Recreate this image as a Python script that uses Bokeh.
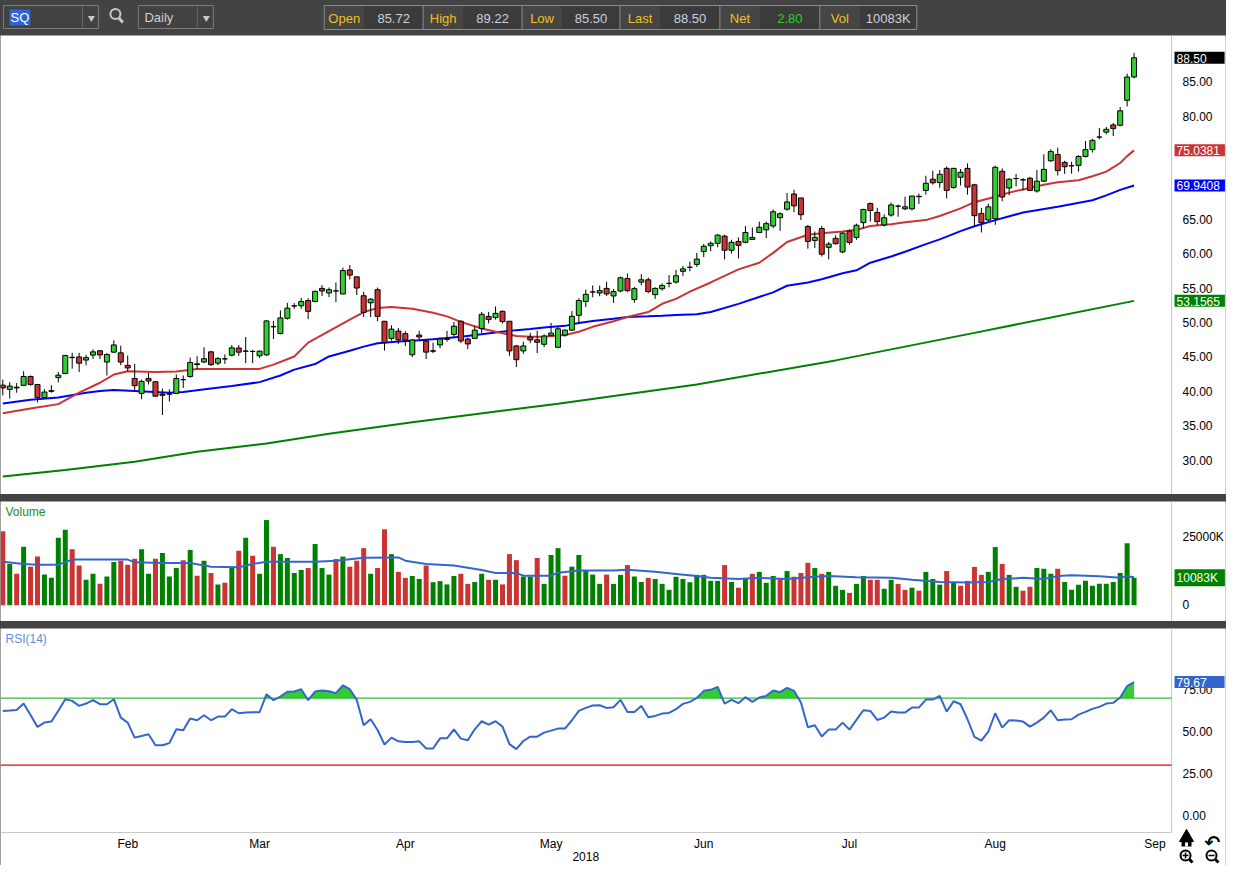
from bokeh.plotting import figure
from bokeh.models import Range1d, FixedTicker, Label, Spacer, NumeralTickFormatter, LinearAxis
from bokeh.layouts import column
from bokeh.embed import file_html
from bokeh.resources import INLINE
from bokeh.core.properties import value

# ---------------- data ----------------
symbol = "SQ"
interval = "Daily"

opens = [40.9,40.29,40.5,40.87,42.16,41.0,39.1,40.0,42.0,42.59,
         44.9,45.0,44.55,45.27,45.9,44.26,45.7,45.6,43.78,41.87,
         39.7,41.87,41.4,39.6,39.6,39.7,41.7,42.16,44.0,44.26,
         45.74,44.1,44.72,45.26,46.3,45.84,45.8,45.17,45.3,49.4,
         48.42,50.62,52.4,52.44,53.2,53.06,54.97,54.3,54.6,54.16,
         57.65,56.65,53.9,52.87,54.78,50.19,47.7,48.76,48.4,45.32,
         48.18,47.33,45.9,46.75,47.56,48.28,50.19,47.61,47.7,49.14,
         50.9,50.72,51.63,50.19,46.6,45.88,47.9,47.5,46.84,48.14,
         46.4,48.18,48.9,51.05,53.06,54.45,54.3,54.97,53.87,54.59,
         56.41,53.35,55.88,56.22,54.06,54.92,55.7,55.88,57.45,58.04,
         58.46,60.32,61.18,61.52,62.57,60.51,61.8,61.66,62.09,63.1,
         63.48,64.05,65.25,66.49,68.69,68.12,63.96,61.95,63.67,60.94,
         62.24,60.27,63.29,62.38,64.53,67.3,66.01,64.2,65.63,66.92,
         66.54,66.54,68.36,69.22,70.84,70.36,72.42,69.65,71.13,72.42,
         70.03,65.87,64.92,65.11,72.0,69.56,70.94,70.75,70.99,69.13,
         70.56,73.52,74.43,73.29,72.8,72.85,74.15,75.15,76.97,77.69,
         78.74,78.69,82.32,85.72]
highs = [41.7,41.34,41.2,42.92,42.3,41.0,40.3,40.9,42.8,45.3,
         45.6,45.6,45.3,46.1,46.0,45.55,47.4,46.65,45.2,44.0,
         41.7,42.7,41.4,40.4,40.3,42.45,42.3,44.9,45.1,46.4,
         45.9,45.0,45.36,46.75,46.75,47.9,46.03,45.93,50.33,50.24,
         51.77,52.87,52.82,53.6,53.54,54.64,55.45,55.1,55.83,57.99,
         58.37,56.65,54.5,53.54,55.1,50.19,49.6,49.23,48.75,47.56,
         48.8,47.47,47.08,47.8,48.8,50.1,50.33,47.8,49.47,51.53,
         51.53,52.34,51.77,50.19,46.75,47.23,48.5,48.8,48.28,49.95,
         49.38,49.0,51.67,53.54,54.78,55.4,55.36,55.93,54.88,56.7,
         57.13,55.2,57.03,56.55,55.12,55.69,56.9,57.65,58.22,58.85,
         60.13,61.42,61.8,62.86,62.76,62.04,62.38,64.05,63.81,64.68,
         64.68,66.45,66.01,68.83,69.31,68.12,64.2,63.24,64.05,61.71,
         62.71,63.14,63.53,64.39,66.54,67.45,66.68,65.73,67.45,67.16,
         68.3,68.41,68.74,71.35,72.06,72.18,72.7,72.5,72.33,73.14,
         70.18,66.68,67.3,72.81,72.42,70.99,71.61,70.99,71.18,72.18,
         74.48,75.2,75.44,73.52,73.38,74.34,76.39,76.73,78.31,78.45,
         79.02,81.32,86.2,89.22]
lows = [39.4,38.95,39.8,40.77,40.8,38.4,39.0,39.8,41.3,42.5,
        43.3,42.8,43.8,44.7,44.7,42.3,45.55,43.8,42.9,40.05,
        38.86,41.0,39.2,36.56,38.5,39.6,40.5,41.97,43.2,44.1,
        43.7,43.8,44.0,45.07,45.17,44.1,44.1,44.83,45.17,47.6,
        48.28,50.43,52.0,52.0,50.5,52.96,53.87,53.7,52.96,54.16,
        56.26,54.0,50.81,50.81,50.19,45.93,47.37,46.89,46.6,44.98,
        47.47,44.69,45.55,46.27,47.23,47.95,47.0,46.13,47.6,48.5,
        49.86,50.43,49.86,45.17,43.55,45.46,47.0,45.55,46.42,48.04,
        46.27,47.95,48.8,49.86,52.25,53.68,53.83,53.87,52.87,54.4,
        54.4,52.87,55.45,54.26,53.44,54.64,55.12,55.69,56.75,57.45,
        58.08,59.51,60.37,60.94,59.18,60.04,59.32,61.52,62.0,63.0,
        62.28,63.72,63.34,66.25,66.06,64.91,60.75,60.85,59.61,59.18,
        61.33,60.08,61.33,62.04,63.72,64.68,64.15,63.96,65.39,65.39,
        66.35,66.3,67.26,68.6,70.05,69.6,68.05,69.46,69.94,68.6,
        63.96,63.1,64.68,64.2,67.64,68.5,69.8,69.22,69.12,68.89,
        70.41,73.38,71.37,71.61,71.66,71.95,74.0,74.72,76.63,77.35,
        77.11,78.55,81.42,85.50]
closes = [40.5,40.77,40.6,42.16,41.0,39.1,39.9,40.1,42.35,45.22,
          44.95,44.1,44.9,45.74,45.3,45.36,46.75,44.26,43.4,40.82,
          41.44,41.5,39.3,39.43,39.6,41.87,41.7,44.2,43.9,44.74,
          43.88,44.76,44.72,46.32,45.7,45.86,45.8,45.84,50.24,49.4,
          50.67,52.1,52.45,53.06,51.63,54.54,54.59,54.78,54.6,57.56,
          56.9,55.02,51.48,53.4,50.9,47.08,49.04,47.5,47.45,47.47,
          47.9,45.7,45.84,47.61,47.65,49.47,47.33,46.89,48.9,51.2,
          50.43,51.34,50.14,45.88,44.6,46.6,47.47,47.13,48.04,48.47,
          49.09,48.9,50.91,53.2,54.11,54.45,54.64,54.16,54.5,56.51,
          54.64,54.93,56.22,54.5,54.97,55.4,55.7,56.8,57.8,58.04,
          59.22,61.09,61.52,62.71,60.51,61.66,61.23,63.1,62.38,63.86,
          64.39,66.11,65.82,67.54,66.97,65.68,61.8,62.38,59.94,61.42,
          61.47,63.0,61.66,64.15,66.45,66.3,64.68,65.25,67.11,66.92,
          66.83,68.4,68.3,70.25,70.32,71.56,69.22,72.42,71.85,69.7,
          65.54,64.53,66.83,72.57,68.26,70.84,70.94,70.75,69.22,70.56,
          72.28,74.86,72.09,72.66,72.8,74.15,75.15,76.49,76.97,78.1,
          78.2,80.79,85.70,88.50]
prev_close = 41.2  # close before the first visible bar

volumes_k = [27100,15100,11500,21400,14100,17800,11200,10000,24700,27600,
             20500,14500,9300,11500,7800,10500,15800,16300,14800,17000,
             20500,11500,17000,19100,10500,13600,16500,20200,10800,16300,
             11800,7600,8200,13600,19900,24700,18100,11500,31200,21400,
             18700,17300,11800,12900,13600,22400,13600,11200,16900,17800,
             14100,16300,20900,11500,13600,27800,18700,12200,10000,10700,
             9600,14500,8400,8800,7600,10700,11500,7800,8500,11500,
             9300,9300,7600,18700,16500,10500,10500,17300,7800,18400,
             20900,10800,14100,18400,12700,11200,7800,11200,7800,11100,
             14700,10500,8500,10000,9600,7800,5600,10400,9600,8400,
             11100,11100,8900,8900,14700,8500,6400,9600,11500,12200,
             8200,10700,9600,12500,10400,11800,15500,13600,11500,12200,
             7100,5600,4500,7800,10700,9300,9300,6000,9300,7800,
             5600,6400,5300,12200,9600,7500,12500,8500,7100,8900,
             14000,11100,12200,21300,15100,11100,6700,5300,6700,13600,
             13300,11500,13300,8500,5600,7500,8900,7100,7800,7800,
             8500,11800,22700,10083]

vol_avg_idx = [0,3,5,8,10,18,19,23,27,30,34,36,38,45,48,52,57,58,61,65,
               69,71,74,75,79,80,83,88,90,94,97,100,102,106,109,113,117,119,123,128,
               131,135,139,142,144,147,150,152,154,158,161,162,163]
vol_avg_k = [15900,15100,14850,14850,16700,16700,15700,15450,15450,14100,13900,15100,15900,15900,16300,17400,17500,16300,15100,14500,
             12900,11800,11800,10800,10800,11900,12700,12700,13000,12200,11450,10700,10000,9600,10000,9600,10400,10700,10200,10000,
             9300,8500,8300,8500,9600,10000,9600,10700,11000,10600,10000,10600,10200]

ma20_idx = [0,4,8,11,14,16,18,22,25,28,33,37,39,42,44,47,50,52,54,56,
            59,62,64,66,69,71,74,76,78,81,83,85,88,90,93,95,97,99,102,104,
            106,109,111,113,116,118,121,123,125,128,130,133,135,138,140,143,145,147,150,152,
            155,157,159,161,162,163]
ma20_val = [36.8,37.5,38.14,39.8,41.25,42.44,42.92,42.83,42.87,43.26,43.26,43.26,43.88,45.07,47.08,48.75,50.43,51.53,52.1,52.25,
            52.0,51.44,50.9,50.1,49.14,48.66,48.04,47.94,47.94,48.18,48.66,49.38,50.19,50.81,51.53,52.73,53.44,54.5,55.83,56.78,
            57.74,58.7,60.13,61.71,62.76,63.0,63.24,63.48,64.05,64.3,64.58,64.9,65.5,66.6,67.5,68.3,68.89,69.36,70.03,70.41,
            70.7,71.28,71.95,73.2,74.2,75.0381]

ma50_idx = [0,4,8,12,14,16,19,24,26,30,33,37,40,42,45,47,50,52,54,57,
            59,62,66,71,74,76,78,81,83,85,88,90,93,95,97,100,102,106,111,113,
            116,118,121,123,125,128,130,133,135,138,140,143,147,152,157,159,161,163]
ma50_val = [38.24,38.76,39.1,39.8,40.05,40.2,40.05,39.8,39.9,40.4,40.77,41.34,42.3,43.16,43.97,45.07,45.89,46.5,46.99,47.23,
            47.37,47.56,47.94,48.57,48.9,49.05,49.29,49.52,49.95,50.24,50.57,50.81,50.91,51.0,51.1,51.2,51.53,52.72,54.39,55.35,
            55.83,56.31,57.17,57.6,58.7,59.6,60.3,61.4,62.1,63.3,64.0,64.9,66.0,66.83,67.79,68.5,69.3,69.9408]

ma200_idx = [0,9,19,28,38,47,59,80,100,120,140,163]
ma200_val = [27.62,28.57,29.77,31.2,32.4,33.83,35.5,38.2,41.0,44.5,48.5,53.1565]

rsi14 = [62.4,62.6,63.0,66.8,60.0,52.8,55.4,56.0,62.5,69.4,
         68.4,65.4,66.8,68.8,66.4,66.4,69.4,58.4,55.4,46.4,
         47.4,48.4,41.9,41.9,43.1,51.4,50.8,57.8,56.8,59.8,
         56.8,59.0,59.0,63.4,61.0,61.4,61.6,61.6,72.4,68.8,
         71.0,73.8,74.0,75.4,68.8,74.0,74.6,74.2,73.0,77.7,
         75.4,69.0,53.8,57.4,51.0,42.3,46.4,44.2,43.8,43.8,
         44.2,39.9,39.9,46.0,46.0,51.4,45.8,44.8,51.4,56.2,
         54.2,56.2,53.0,42.5,39.5,44.4,47.0,47.0,49.4,50.6,
         51.8,51.8,56.8,62.4,64.2,65.6,65.8,64.2,64.6,69.0,
         61.8,61.8,65.4,58.6,59.4,60.8,61.2,63.4,66.6,67.8,
         70.2,74.4,75.0,76.8,66.8,69.0,67.0,70.6,67.8,70.4,
         71.4,74.6,73.6,76.2,74.4,67.4,52.6,53.8,47.1,51.2,
         51.2,55.4,51.2,57.0,62.8,62.4,57.0,58.4,62.0,61.4,
         61.4,64.4,64.4,69.2,69.2,71.4,62.0,68.2,66.4,57.4,
         46.8,44.6,50.0,61.0,52.4,56.8,56.6,56.0,53.0,55.4,
         58.4,62.8,56.8,57.2,57.4,60.2,61.8,63.6,64.8,66.8,
         67.2,70.4,77.3,79.67]
rsi_upper = 70
rsi_lower = 30

month_ticks = [18, 37, 58, 79, 101, 122, 143, 166]
month_labels = ["Feb", "Mar", "Apr", "May", "Jun", "Jul", "Aug", "Sep"]
year_tick = 84
year_label = "2018"

price_ticks = [30, 35, 40, 45, 50, 55, 60, 65, 70, 75, 80, 85]
vol_ticks = [0, 25000]
rsi_ticks = [0, 25, 50, 75]

# ---------------- styling / layout ----------------
FONT = "Liberation Sans"
W = 1226
PLOT_W = 1172            # width of the data area; price scale to its right
BAR = "#434343"
UP_C = "#33cc33"
DN_C = "#cc3333"
VUP_C = "#008000"
VDN_C = "#cc3333"
AXIS_C = "#c8c8c8"

n = len(closes)
idx = list(range(n))
X0 = -0.33
X_SPLIT = 168.4
PX_PER_BAR = PLOT_W / (X_SPLIT - X0)
xr = Range1d(X0, X0 + W / PX_PER_BAR)
BADGE_W = W - PLOT_W - 3

CW = {'.': 3.34, 'K': 8.0}
def text_w(s):
    return sum(CW.get(ch, 6.67) for ch in s)

def style_yaxis(ax):
    ax.axis_line_color = None
    ax.major_tick_line_color = None
    ax.minor_tick_line_color = None
    ax.major_label_standoff = -(W - PLOT_W - 5)
    ax.major_label_text_font = FONT
    ax.major_label_text_font_size = "12px"
    ax.major_label_text_color = "#000000"

def panel(height, y0, y1, data_y0=None):
    f = figure(width=W, height=height, x_range=xr, y_range=Range1d(y0, y1),
               x_axis_location=None, y_axis_location="right", toolbar_location=None,
               output_backend="svg", min_border=0, background_fill_color="white",
               border_fill_color="white", outline_line_color=None)
    f.xgrid.visible = False
    f.ygrid.visible = False
    style_yaxis(f.yaxis[0])
    f.segment(x0=[X_SPLIT], y0=[y0 if data_y0 is None else data_y0], x1=[X_SPLIT], y1=[y1],
              line_color=AXIS_C, line_width=1)
    return f

def badge(f, y, text, bg):
    w = text_w(text)
    f.add_layout(Label(x=X_SPLIT, y=y, text=text, x_offset=3, text_align="left",
                       text_baseline="middle", text_color="white", text_font=FONT,
                       text_font_size="12px", background_fill_color=bg,
                       padding=dict(left=2, right=max(0, int(BADGE_W - 2 - w)), top=2, bottom=1)))

# ---------------- toolbar ----------------
tb = figure(width=W, height=35, x_range=Range1d(0, W), y_range=Range1d(35, 0),
            x_axis_location=None, y_axis_location=None, toolbar_location=None,
            output_backend="svg", min_border=0, background_fill_color=BAR,
            border_fill_color=BAR, outline_line_color=None)
tb.xgrid.visible = False
tb.ygrid.visible = False
tb.quad(left=[3, 138], right=[98, 213], top=[5, 5], bottom=[28, 28],
        fill_color="#424242", line_color="#7c7c7c", line_width=1)
tb.segment(x0=[82, 197], y0=[6, 6], x1=[82, 197], y1=[27, 27], line_color="#6a6a6a")
tb.scatter(x=[91, 206], y=[17.5, 17.5], marker="inverted_triangle", size=7,
           fill_color="#c8c8c8", line_color=None)
tb.quad(left=9, right=30, top=9, bottom=25, fill_color="#3064d0", line_color=None)
tb.text(x=[10], y=[17], text=[symbol], text_color="white", text_font=value(FONT),
        text_font_size="13px", text_baseline="middle", text_align="left")
tb.scatter(x=[115], y=[13.5], marker="circle", size=10, fill_color=None,
           line_color="#c8c8c8", line_width=2)
tb.segment(x0=[118.5], y0=[17.5], x1=[122.5], y1=[22], line_color="#c8c8c8", line_width=3)
tb.text(x=[144], y=[17], text=[interval], text_color="#d0d0d0", text_font=value(FONT),
        text_font_size="13px", text_baseline="middle", text_align="left")

q_edges = [324, 423, 522, 620, 720, 820, 917]
q_labels = ["Open", "High", "Low", "Last", "Net", "Vol"]
net = closes[-1] - closes[-2]
q_values = [f"{opens[-1]:.2f}", f"{highs[-1]:.2f}", f"{lows[-1]:.2f}",
            f"{closes[-1]:.2f}", f"{net:.2f}", f"{volumes_k[-1]}K"]
q_vcolors = ["#c9d1de"] * 4 + ["#33cc33", "#c9d1de"]
tb.quad(left=q_edges[0], right=q_edges[-1], top=5, bottom=29, fill_color="#454545",
        line_color="#8a8a8a")
tb.quad(left=[e + 40 for e in q_edges[:-1]], right=[e - 1 for e in q_edges[1:]],
        top=[6] * 6, bottom=[28] * 6, fill_color="#3b3b3b", line_color=None)
tb.segment(x0=q_edges[1:-1], y0=[5] * 5, x1=q_edges[1:-1], y1=[29] * 5, line_color="#8a8a8a")
tb.text(x=[e + 20 for e in q_edges[:-1]], y=[17.5] * 6, text=q_labels, text_color="#f0c020",
        text_font=value(FONT), text_font_size="13px", text_baseline="middle", text_align="center")
tb.text(x=[(a + 40 + b) / 2 for a, b in zip(q_edges[:-1], q_edges[1:])], y=[17.5] * 6,
        text=q_values, text_color=q_vcolors, text_font=value(FONT), text_font_size="13px",
        text_baseline="middle", text_align="center")

# ---------------- price panel ----------------
pp = panel(459, 25.0, 91.74)
pp.yaxis[0].ticker = FixedTicker(ticks=price_ticks)
pp.yaxis[0].formatter = NumeralTickFormatter(format="0.00")
pp.line(ma200_idx, ma200_val, line_color="#008000", line_width=2)
pp.line(ma50_idx, ma50_val, line_color="#0000ff", line_width=2)
pp.line(ma20_idx, ma20_val, line_color="#cc3333", line_width=2)
tops = [max(o, c) for o, c in zip(opens, closes)]
bots = [min(o, c) for o, c in zip(opens, closes)]
ccol = [UP_C if c >= o else DN_C for o, c in zip(opens, closes)]
pp.segment(x0=idx, y0=lows, x1=idx, y1=highs, line_color="black", line_width=1)
pp.vbar(x=idx, width=0.72, top=tops, bottom=bots, fill_color=ccol, line_color="black", line_width=1)
badge(pp, closes[-1], f"{closes[-1]:.2f}", "#000000")
badge(pp, ma20_val[-1], f"{ma20_val[-1]:.4f}", "#cc3333")
badge(pp, ma50_val[-1], f"{ma50_val[-1]:.4f}", "#0000ff")
badge(pp, ma200_val[-1], f"{ma200_val[-1]:.4f}", "#008000")

# ---------------- volume panel ----------------
vp = panel(120, -6000, 38000)
vp.yaxis[0].ticker = FixedTicker(ticks=vol_ticks)
vp.yaxis[0].major_label_overrides = {0: "0", 25000: "25000K"}
prevs = [prev_close] + closes[:-1]
vcol = [VUP_C if c >= pc else VDN_C for c, pc in zip(closes, prevs)]
vp.vbar(x=idx, width=0.72, top=volumes_k, bottom=0, fill_color=vcol, line_color=None)
vp.line(vol_avg_idx, vol_avg_k, line_color="#3366cc", line_width=2)
vp.add_layout(Label(x=X0, y=38000, text="Volume", x_offset=5, y_offset=-3,
                    text_baseline="top", text_color="#228b22", text_font=FONT,
                    text_font_size="12px"))
badge(vp, volumes_k[-1], f"{volumes_k[-1]}K", vcol[-1])

# ---------------- RSI panel (frame also covers the date strip) ----------------
RSI_H = 204
STRIP = 33
RSI_TOP = 111.7
RSI_BOT = -10.35
RSI_PX = RSI_H / (RSI_TOP - RSI_BOT)
RSI_Y0 = RSI_BOT - STRIP / RSI_PX
rp = panel(RSI_H + STRIP, RSI_Y0, RSI_TOP, data_y0=RSI_BOT)
rp.yaxis[0].ticker = FixedTicker(ticks=rsi_ticks)
rp.yaxis[0].formatter = NumeralTickFormatter(format="0.00")
rp.segment(x0=[X0], y0=[RSI_BOT], x1=[X_SPLIT], y1=[RSI_BOT], line_color=AXIS_C, line_width=1)

fx, fy = [], []
for k in range(n):
    if k > 0:
        y0, y1 = rsi14[k - 1], rsi14[k]
        if (y0 - rsi_upper) * (y1 - rsi_upper) < 0:
            t = (rsi_upper - y0) / (y1 - y0)
            fx.append(k - 1 + t)
            fy.append(rsi_upper)
    fx.append(k)
    fy.append(max(rsi14[k], rsi_upper))
rp.varea(x=fx, y1=rsi_upper, y2=fy, fill_color="#33cc33")
rp.segment(x0=[X0, X0], y0=[rsi_upper, rsi_lower], x1=[X_SPLIT, X_SPLIT],
           y1=[rsi_upper, rsi_lower], line_color=["#33bb33", "#ee0000"], line_width=1.2)
rp.line(idx, rsi14, line_color="#3366cc", line_width=2)
rp.add_layout(Label(x=X0, y=RSI_TOP, text="RSI(14)", x_offset=5, y_offset=-3,
                    text_baseline="top", text_color="#5b8ede", text_font=FONT,
                    text_font_size="12px"))
badge(rp, rsi14[-1], f"{rsi14[-1]:.2f}", "#3366cc")

xa = LinearAxis(ticker=FixedTicker(ticks=month_ticks),
                major_label_overrides={t: l for t, l in zip(month_ticks, month_labels)},
                axis_line_color=None, major_tick_line_color=None, minor_tick_line_color=None,
                major_label_standoff=-(STRIP + 2), major_label_text_font=FONT,
                major_label_text_font_size="12px", major_label_text_color="#000000")
rp.add_layout(xa, "below")
rp.add_layout(Label(x=year_tick, y=RSI_BOT, text=year_label, y_offset=-24,
                    text_align="center", text_baseline="middle", text_color="#000000",
                    text_font=FONT, text_font_size="12px"))

# navigation icons (chrome) in the bottom-right corner, placed by pixel offsets
def corner(dx, dy):
    return X_SPLIT + dx / PX_PER_BAR, RSI_BOT - dy / RSI_PX

hx, hy = corner(15, 5)
rp.scatter(x=[hx], y=[hy], marker="triangle", size=14, fill_color="black", line_color="black")
rp.quad(left=[corner(10, 0)[0]], right=[corner(20, 0)[0]], top=[corner(0, 7)[1]],
        bottom=[corner(0, 14)[1]], fill_color="black", line_color=None)
rp.quad(left=[corner(13.5, 0)[0]], right=[corner(16.5, 0)[0]], top=[corner(0, 10)[1]],
        bottom=[corner(0, 14)[1]], fill_color="white", line_color=None)
rp.add_layout(Label(x=X_SPLIT, y=RSI_BOT, text="↶", x_offset=41, y_offset=-9,
                    text_align="center", text_baseline="middle", text_color="#000000",
                    text_font="DejaVu Sans", text_font_style="bold", text_font_size="19px"))
for dx, sym in [(14, "cross"), (40, "dash")]:
    mx, my = corner(dx, 23)
    rp.scatter(x=[mx], y=[my], marker="circle", size=10, fill_color=None,
               line_color="black", line_width=2)
    rp.scatter(x=[mx], y=[my], marker=sym, size=6, line_color="black", line_width=1.5)
    ex, ey = corner(dx + 4, 27)
    fx2, fy2 = corner(dx + 7, 30)
    rp.segment(x0=[ex], y0=[ey], x1=[fx2], y1=[fy2], line_color="black", line_width=3)

layout = column(tb, pp, Spacer(width=W, height=7, styles={"background-color": BAR}),
                vp, Spacer(width=W, height=7, styles={"background-color": BAR}), rp,
                spacing=0, styles={"background-color": BAR})

open("out.html", "w").write(file_html(layout, INLINE))
